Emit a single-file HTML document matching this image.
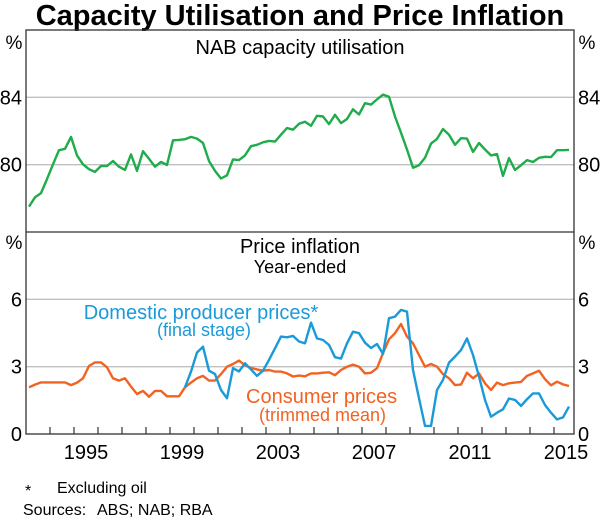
<!DOCTYPE html>
<html><head><meta charset="utf-8"><style>
body{margin:0;background:#fff;}
svg{display:block;font-family:"Liberation Sans",Arial,sans-serif;}
</style></head><body>
<svg id="c" width="600" height="520" viewBox="0 0 600 520">
<text x="300" y="25" text-anchor="middle" font-size="29" font-weight="bold" fill="#000">Capacity Utilisation and Price Inflation</text>
<g id="grid"></g>
<g id="series"></g>
<g id="frame"></g>
<text x="300" y="54" text-anchor="middle" font-size="20">NAB capacity utilisation</text>
<text x="300" y="253" text-anchor="middle" font-size="20">Price inflation</text>
<text x="300" y="273" text-anchor="middle" font-size="18">Year-ended</text>
<text x="14" y="49" text-anchor="middle" font-size="19">%</text>
<text x="587" y="49" text-anchor="middle" font-size="19">%</text>
<text x="14" y="249" text-anchor="middle" font-size="19">%</text>
<text x="587" y="249" text-anchor="middle" font-size="19">%</text>
<text x="201" y="319" text-anchor="middle" font-size="20" fill="#1a9ad9">Domestic producer prices*</text>
<text x="204" y="336" text-anchor="middle" font-size="18" fill="#1a9ad9">(final stage)</text>
<text x="246" y="403" font-size="20" fill="#f26322">Consumer prices</text>
<text x="259" y="421" font-size="18" fill="#f26322">(trimmed mean)</text>
<text x="25" y="496" font-size="16">*</text>
<text x="57" y="493" font-size="16">Excluding oil</text>
<text x="23" y="515" font-size="16">Sources:</text>
<text x="97" y="515" font-size="16">ABS; NAB; RBA</text>
</svg>
<script>
const startYear = 1993;
const nab = [77.51,78.06,78.31,79.14,80.02,80.86,80.94,81.65,80.55,80.02,79.73,79.57,79.92,79.92,80.22,79.88,79.69,80.61,79.63,80.80,80.35,79.88,80.16,79.98,81.45,81.47,81.51,81.65,81.55,81.29,80.22,79.63,79.18,79.37,80.31,80.27,80.55,81.10,81.18,81.33,81.41,81.37,81.78,82.18,82.08,82.43,82.55,
82.31,82.90,82.86,82.41,82.96,82.47,82.71,83.29,82.98,83.65,83.57,83.88,84.16,84.04,82.86,81.9,80.9,79.82,79.96,80.41,81.25,81.53,82.12,81.78,81.18,81.57,81.55,80.76,81.29,80.90,80.55,80.63,79.33,80.39,79.69,79.96,80.27,80.16,80.41,80.47,80.45,80.86,80.86,80.88];
const cpi = [2.08,2.20,2.30,2.30,2.30,2.30,2.30,2.18,2.29,2.48,3.03,3.19,3.19,2.97,2.48,2.38,2.48,2.11,1.78,1.92,1.66,1.92,1.92,1.68,1.68,1.68,2.08,2.29,2.48,2.59,2.38,2.38,2.67,3.00,3.12,3.27,3.06,2.94,2.88,2.82,2.85,2.78,2.78,2.70,2.56,2.60,2.57,
2.70,2.70,2.73,2.75,2.62,2.85,3.00,3.09,3.00,2.70,2.73,2.93,3.60,4.22,4.49,4.90,4.34,4.04,3.52,3.00,3.12,3.00,2.67,2.48,2.18,2.20,2.73,2.48,2.70,2.26,1.96,2.29,2.18,2.26,2.29,2.32,2.59,2.70,2.82,2.44,2.17,2.33,2.21,2.14];
const ppiStart = 26;
const ppi = [2.08,2.78,3.63,3.89,2.82,2.67,1.96,1.59,2.93,2.79,3.15,2.88,2.59,2.82,3.30,3.82,4.34,4.31,4.37,4.12,4.04,
4.96,4.26,4.19,3.97,3.42,3.36,4.04,4.56,4.49,4.07,3.83,4.01,3.57,5.16,5.23,5.53,5.45,2.85,1.59,0.36,0.36,1.96,2.41,3.18,3.45,3.74,4.26,3.52,2.56,1.52,0.77,0.95,1.10,1.58,1.52,1.25,1.55,1.81,1.81,1.29,0.95,0.65,0.74,1.22];
const topTicks = [80,84];
const botTicks = [0,3,6];
const yearLabels = [1995,1999,2003,2007,2011,2015];

const L=26,R=574,T1=30,B1=232,T2=232,B2=434;
const x = t => L + (t - startYear) * 24;
const xq = i => x(startYear + i/4 + 0.125);
const y1 = v => B1 - (v - 76) / 12 * (B1 - T1);
const y2 = v => B2 - v / 9 * (B2 - T2);
const NS='http://www.w3.org/2000/svg';
function mk(tag, attrs, parent){const e=document.createElementNS(NS,tag);for(const k in attrs)e.setAttribute(k,attrs[k]);parent.appendChild(e);return e;}
const grid=document.getElementById('grid'), ser=document.getElementById('series'), fr=document.getElementById('frame');

topTicks.forEach(v=>{
  const l=mk('line',{x1:L,x2:R,y1:y1(v),y2:y1(v),stroke:'#c0c0c0','stroke-width':1.3},grid);
  
  
  [[22,'end'],[578,'start']].forEach(([px,a])=>{
    const t=mk('text',{x:px,y:y1(v)+7,'text-anchor':a,'font-size':20},fr);t.textContent=v;
    
    
  });
});
botTicks.forEach(v=>{
  if(v>0){const l=mk('line',{x1:L,x2:R,y1:y2(v),y2:y2(v),stroke:'#c0c0c0','stroke-width':1.3},grid);
  
  }
  [[22,'end'],[578,'start']].forEach(([px,a])=>{
    const t=mk('text',{x:px,y:y2(v)+7,'text-anchor':a,'font-size':20},fr);t.textContent=v;
    
    
  });
});
function line(vals,start,yf,color,name){
  const d=vals.map((v,i)=>(i?'L':'M')+xq(start+i).toFixed(1)+' '+yf(v).toFixed(1)).join(' ');
  const p=mk('path',{d:d,fill:'none',stroke:color,'stroke-width':2.4,'stroke-linejoin':'round'},ser);
  
  
}
line(nab,0,y1,'#1fac4a','nab-capacity-line');
line(cpi,0,y2,'#f26322','consumer-prices-line');
line(ppi,ppiStart,y2,'#1a9ad9','producer-prices-line');

const box=mk('rect',{x:L,y:T1,width:R-L,height:B2-T1,fill:'none',stroke:'#333','stroke-width':1.3},fr);


const div=mk('line',{x1:L,x2:R,y1:B1,y2:B1,stroke:'#333','stroke-width':1.3},fr);


for(let yr=1994; yr<=2015; yr++){
  const tk=mk('line',{x1:x(yr),x2:x(yr),y1:B2,y2:B2-7,stroke:'#333','stroke-width':1.2},fr);
  
  
}
yearLabels.forEach(yr=>{
  const t=mk('text',{x:x(yr+0.5),y:459,'text-anchor':'middle','font-size':20},fr);t.textContent=yr;
  
  
});
</script>
</body></html>
